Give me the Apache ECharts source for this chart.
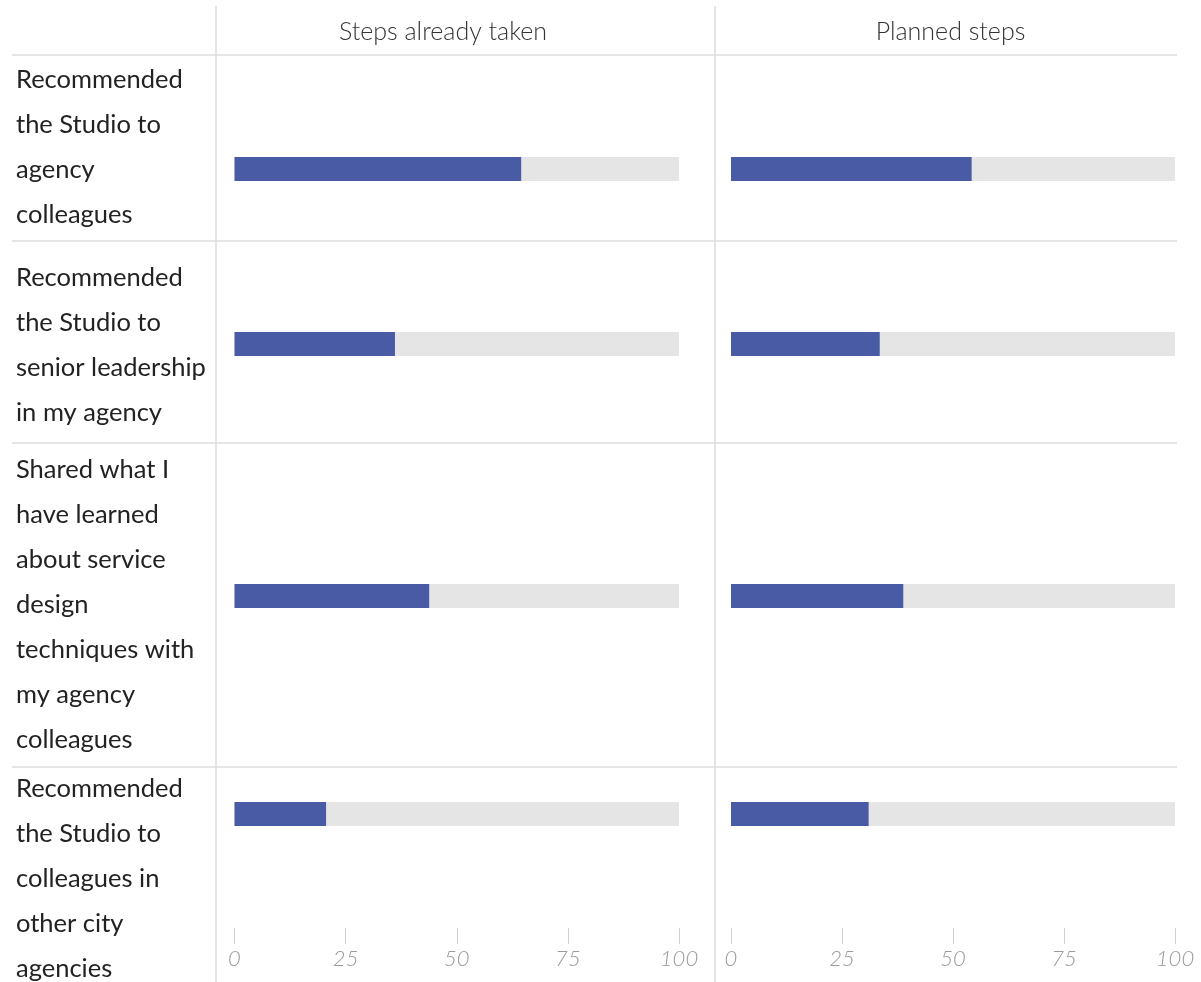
<!DOCTYPE html>
<html>
<head>
<meta charset="utf-8">
<script src="https://cdn.jsdelivr.net/npm/echarts@6/dist/echarts.min.js"></script>
<style>
html,body{margin:0;padding:0;background:#fff;}
#chart{width:1201px;height:982px;}
</style>
</head>
<body>
<div id="chart"></div>
<script>
// ---- data ----
const panelTitles = ['Steps already taken', 'Planned steps'];
const categories = [
  'Recommended\nthe Studio to\nagency\ncolleagues',
  'Recommended\nthe Studio to\nsenior leadership\nin my agency',
  'Shared what I\nhave learned\nabout service\ndesign\ntechniques with\nmy agency\ncolleagues',
  'Recommended\nthe Studio to\ncolleagues in\nother city\nagencies'
];
const takenValues = [64.5, 36.1, 43.8, 20.6];
const plannedValues = [54.2, 33.5, 38.8, 31.0];
const axisMin = 0, axisMax = 100, axisInterval = 25;

// ---- layout ----
const barCenters = [169, 344, 596, 814];
const labelTops = [57.5, 255.5, 447.5, 766.5];
const rowSeps = [55, 241, 443, 767];
const panels = [
  {left: 234.5, right: 1201 - 679},
  {left: 731, right: 1201 - 1175}
];
const panelValues = [takenValues, plannedValues];
const axisY = 928;
const barH = 24;
const FONT = 'Lato, "Open Sans", sans-serif';
const blue = '#4a5ba6';

const grids = [], xAxes = [], yAxes = [], series = [];
for (let p = 0; p < 2; p++) {
  for (let r = 0; r < categories.length; r++) {
    const idx = grids.length;
    const top = barCenters[r] - barH / 2;
    grids.push({left: panels[p].left, right: panels[p].right, top: top, height: barH});
    const last = r === categories.length - 1;
    xAxes.push({
      gridIndex: idx, type: 'value', min: axisMin, max: axisMax, interval: axisInterval,
      show: last,
      offset: last ? axisY - (top + barH) : 0,
      axisLine: {show: false},
      axisTick: {show: true, length: 16, lineStyle: {color: '#d0d0d0', width: 1}},
      splitLine: {show: false},
      axisLabel: {color: '#9a9a9a', fontFamily: FONT, fontSize: 22, fontStyle: 'italic', fontWeight: 300, margin: 20}
    });
    yAxes.push({gridIndex: idx, type: 'category', data: [categories[r]], show: false});
    series.push({
      type: 'bar', xAxisIndex: idx, yAxisIndex: idx, barWidth: barH,
      data: [panelValues[p][r]],
      itemStyle: {color: blue},
      showBackground: true,
      backgroundStyle: {color: '#e5e5e5'},
      silent: true
    });
  }
}

const graphic = [];
// vertical lines
[216, 715].forEach(x => graphic.push({type: 'line', shape: {x1: x, y1: 6, x2: x, y2: 982}, style: {stroke: '#dcdcdc', lineWidth: 1.5}, silent: true}));
// horizontal separators
rowSeps.forEach(y => graphic.push({type: 'line', shape: {x1: 12, y1: y, x2: 1177, y2: y}, style: {stroke: '#dcdcdc', lineWidth: 1.5}, silent: true}));
// headers
const headerX = [443, 950.5];
panelTitles.forEach((t, i) => graphic.push({
  type: 'text', x: headerX[i], y: 32,
  style: {text: t, fill: '#333', fontFamily: FONT, fontSize: 25, fontWeight: 300, textAlign: 'center', textVerticalAlign: 'middle'}
}));
// row labels
categories.forEach((c, r) => graphic.push({
  type: 'text', x: 16, y: labelTops[r],
  style: {text: c, fill: '#222', fontFamily: FONT, fontSize: 25.5, lineHeight: 45, textAlign: 'left', textVerticalAlign: 'top'}
}));

const chart = echarts.init(document.getElementById('chart'));
chart.setOption({
  animation: false,
  backgroundColor: '#fff',
  grid: grids, xAxis: xAxes, yAxis: yAxes, series: series,
  graphic: graphic
});
</script>
</body>
</html>
